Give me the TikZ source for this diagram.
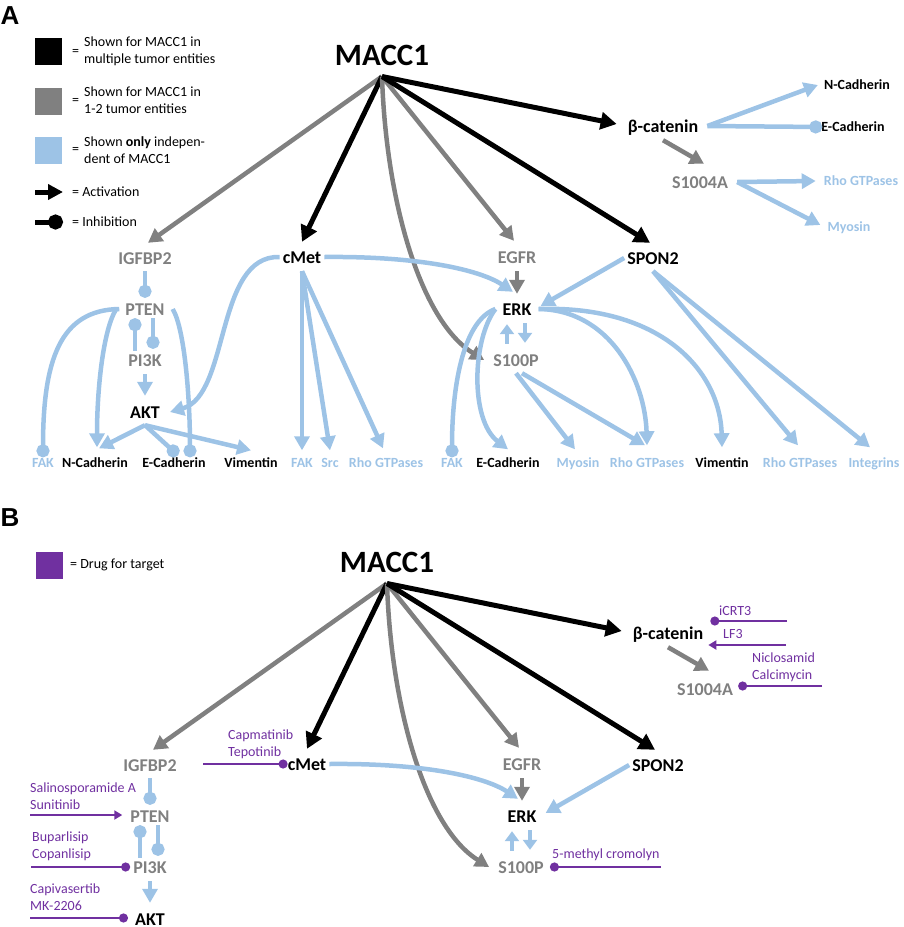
\documentclass[tikz,border=0pt]{standalone}
\usepackage{fontspec}
\setmainfont{Carlito}
\newfontfamily\panelfont{Liberation Sans}
\usetikzlibrary{arrows.meta}
\definecolor{lblue}{HTML}{9DC3E6}
\definecolor{mgrey}{HTML}{808080}
\definecolor{drug}{HTML}{7030A0}
\def\MaccCore#1{
    \node[hubnode] (#1macc) at (382,55) {MACC1};
    \node[gene] (#1bcat) at (663,126) {β-catenin};
    \node[gene, text=mgrey] (#1sa) at (700,182) {S1004A};
    \node[gene, text=mgrey] (#1igf) at (145,258) {IGFBP2};
    \node[gene] (#1cmet) at (302,257) {cMet};
    \node[gene, text=mgrey] (#1egfr) at (517,257) {EGFR};
    \node[gene] (#1spon) at (653,258) {SPON2};
    \node[gene, text=mgrey] (#1pten) at (145,309) {PTEN};
    \node[gene, text=mgrey] (#1pik) at (145,360) {PI3K};
    \node[gene] (#1akt) at (145,412) {AKT};
    \node[gene] (#1erk) at (517,309) {ERK};
    \node[gene, text=mgrey] (#1sp) at (516,360) {S100P};
    \draw[gact] (#1macc.south) -- ([xshift=3pt,yshift=6pt]#1igf.north);
    \draw[kact] (#1macc.south) -- ([yshift=6pt]#1cmet.north);
    \draw[gact] (#1macc.south) .. controls (386,200) and (420,320) .. ([xshift=-6pt]#1sp.west);
    \draw[gact] (#1macc.south) -- ([xshift=-3pt,yshift=7pt]#1egfr.north);
    \draw[kact] (#1macc.south) -- ([xshift=-3pt,yshift=6pt]#1spon.north);
    \draw[kact] (#1macc.south) -- ([xshift=-8pt,yshift=2pt]#1bcat.west);
    \draw[gact] ([yshift=-5pt]#1bcat.south) -- ([xshift=4pt,yshift=9pt]#1sa.north);
    \draw[binh] ([yshift=-4pt]#1igf.south) -- ([yshift=2pt]#1pten.north);
    \draw[binh] ([xshift=-10pt]#1pik.north) -- ([xshift=-10pt]#1pten.south);
    \draw[binh] ([xshift=8pt]#1pten.south) -- ([xshift=8pt,yshift=2pt]#1pik.north);
    \draw[bact] ([yshift=-5pt]#1pik.south) -- ([yshift=7pt]#1akt.north);
    \draw[bact] (#1cmet.east) .. controls (420,256) and (480,270) .. ([xshift=-4pt,yshift=8pt]#1erk.north);
    \draw[gact] ([yshift=-5pt]#1egfr.south) -- ([yshift=6pt]#1erk.north);
    \draw[bact] (#1spon.west) -- ([xshift=6pt,yshift=3pt]#1erk.east);
    \draw[sact] ([xshift=8pt,yshift=-5pt]#1erk.south) -- ([xshift=9pt,yshift=8pt]#1sp.north);
    \draw[sact] ([xshift=-9pt,yshift=7pt]#1sp.north) -- ([xshift=-10pt,yshift=-6pt]#1erk.south);
}
\begin{document}
\begin{tikzpicture}[x=1pt, y=-1pt,
    hubnode/.style={font=\fontsize{31}{36}\selectfont\bfseries, inner sep=0pt, text height=21pt, text depth=0pt, outer ysep=11pt},
    gene/.style={font=\fontsize{18}{21}\selectfont\bfseries, inner sep=3pt, text height=12pt, text depth=0pt},
    tgt/.style={font=\fontsize{14}{17}\selectfont\bfseries, inner sep=3pt, text height=9pt, text depth=0pt, text=lblue},
    panel/.style={font=\panelfont\fontsize{26}{28}\selectfont\bfseries, inner sep=0pt, anchor=base west},
    keytxt/.style={font=\fontsize{14}{17}\selectfont, inner sep=0pt, align=left, anchor=west},
    drugtxt/.style={font=\fontsize{14}{17}\selectfont, text=drug, inner sep=0pt, align=left, anchor=west},
    keybox/.style={minimum size=27pt, inner sep=0pt},
    kact/.style={draw=black, line width=5pt, -{Triangle[length=16pt,width=17pt]}},
    gact/.style={draw=mgrey, line width=4.5pt, -{Triangle[length=14pt,width=15pt]}},
    bact/.style={draw=lblue, line width=4.5pt, -{Triangle[length=14pt,width=15pt]}},
    sact/.style={draw=lblue, line width=4.5pt, -{Triangle[length=10pt,width=14pt]}},
    binh/.style={draw=lblue, line width=4.5pt, -{Circle[length=13pt]}},
    dact/.style={draw=drug, line width=2.5pt, -{Triangle[length=8pt,width=9pt]}},
    dinh/.style={draw=drug, line width=2.5pt, -{Circle[length=9pt]}}]
    \useasboundingbox (0,0) rectangle (903,927);
    \node[panel] (pa) at (0.5,24.5) {A};
    \node[keybox, fill=black] (k1) at (48.5,51.5) {};
    \node[keytxt] (k1e) at (72,52) {=};
    \node[keytxt] (k1t) at (84,51.5) {Shown for MACC1 in\\multiple tumor entities};
    \node[keybox, fill=mgrey] (k2) at (48.5,101) {};
    \node[keytxt] (k2e) at (72,101) {=};
    \node[keytxt] (k2t) at (84,100) {Shown for MACC1 in\\1-2 tumor entities};
    \node[keybox, fill=lblue] (k3) at (48.5,150) {};
    \node[keytxt] (k3e) at (72,150) {=};
    \node[keytxt] (k3t) at (84,150) {Shown \textbf{only} indepen-\\dent of MACC1};
    \coordinate (ka0) at (35,192);
    \coordinate (ka1) at (63,192);
    \draw[line width=5pt, -{Triangle[length=15pt,width=15pt]}] (ka0) -- (ka1);
    \node[keytxt] (kat) at (72,192) {= Activation};
    \coordinate (ki0) at (35,222);
    \coordinate (ki1) at (63,222);
    \draw[line width=5pt, -{Circle[length=15pt]}] (ki0) -- (ki1);
    \node[keytxt] (kit) at (72,222) {= Inhibition};
    \MaccCore{a-}
    \node[tgt, text=black] (ncadT) at (857,85) {N-Cadherin};
    \node[tgt, text=black] (ecadT) at (853,127) {E-Cadherin};
    \node[tgt] (rhoT) at (861,181) {Rho GTPases};
    \node[tgt] (myoT) at (849,227) {Myosin};
    \node[tgt] (fakL) at (43,463) {FAK};
    \node[tgt, text=black] (ncadL) at (95,463) {N-Cadherin};
    \node[tgt, text=black] (ecadL) at (174,463) {E-Cadherin};
    \node[tgt, text=black] (vimL) at (251,463) {Vimentin};
    \node[tgt] (fakM) at (302,463) {FAK};
    \node[tgt] (src) at (330,463) {Src};
    \node[tgt] (rhoM) at (386,463) {Rho GTPases};
    \node[tgt] (fakR) at (452,463) {FAK};
    \node[tgt, text=black] (ecadR) at (508,463) {E-Cadherin};
    \node[tgt] (myoR) at (578,463) {Myosin};
    \node[tgt] (rhoR) at (647,463) {Rho GTPases};
    \node[tgt, text=black] (vimR) at (722,463) {Vimentin};
    \node[tgt] (rhoS) at (800,463) {Rho GTPases};
    \node[tgt] (integ) at (874,463) {Integrins};
    \draw[bact] ([xshift=6pt]a-bcat.east) -- ([xshift=-3pt]ncadT.west);
    \draw[binh] ([xshift=6pt]a-bcat.east) -- ([xshift=4pt]ecadT.west);
    \draw[bact] ([xshift=6pt]a-sa.east) -- ([xshift=-5pt]rhoT.west);
    \draw[bact] ([xshift=6pt]a-sa.east) -- ([xshift=-4pt,yshift=2pt]myoT.west);
    \draw[binh] ([xshift=-3pt]a-pten.west) .. controls (60,310) and (43,360) .. ([yshift=-2pt]fakL.north);
    \draw[bact] ([xshift=-6pt]a-pten.west) .. controls (103,330) and (97,390) .. ([xshift=2pt,yshift=8pt]ncadL.north);
    \draw[binh] ([xshift=5pt]a-pten.east) .. controls (185,330) and (190,400) .. ([xshift=16pt,yshift=-2pt]ecadL.north);
    \draw[bact] (a-cmet.west) .. controls (215,255) and (230,395) .. ([xshift=7pt]a-akt.east);
    \draw[bact] ([yshift=-4pt]a-akt.south) -- ([xshift=4pt,yshift=7pt]ncadL.north);
    \draw[binh] ([yshift=-4pt]a-akt.south) -- ([xshift=4pt]ecadL.north);
    \draw[bact] ([yshift=-4pt]a-akt.south) -- ([yshift=5pt]vimL.north);
    \draw[bact] ([yshift=-5pt]a-cmet.south) -- ([yshift=5pt]fakM.north);
    \draw[bact] ([yshift=-5pt]a-cmet.south) -- ([yshift=5pt]src.north);
    \draw[bact] ([yshift=-5pt]a-cmet.south) -- ([xshift=-3pt,yshift=7pt]rhoM.north);
    \draw[binh] ([xshift=-4pt]a-erk.west) .. controls (465,320) and (452,380) .. ([yshift=-2pt]fakR.north);
    \draw[bact] ([xshift=-4pt]a-erk.west) .. controls (472,340) and (470,420) .. ([yshift=6pt]ecadR.north);
    \draw[bact] ([yshift=-4pt]a-sp.south) -- ([xshift=-3pt,yshift=6pt]myoR.north);
    \draw[bact] ([xshift=6pt,yshift=-4pt]a-sp.south) -- ([xshift=-2pt,yshift=10pt]rhoR.north);
    \draw[bact] ([xshift=4pt]a-erk.east) .. controls (610,310) and (645,380) .. ([yshift=10pt]rhoR.north);
    \draw[bact] ([xshift=4pt]a-erk.east) .. controls (660,305) and (720,370) .. ([yshift=8pt]vimR.north);
    \draw[bact] ([yshift=-4pt]a-spon.south) -- ([xshift=-2pt,yshift=10pt]rhoS.north);
    \draw[bact] ([yshift=-4pt]a-spon.south) -- ([xshift=-4pt,yshift=8pt]integ.north);
    \node[panel] (pb) at (0.5,526) {B};
    \node[keybox, fill=drug] (k4) at (49,565) {};
    \node[keytxt] (k4t) at (70,565) {= Drug for target};
    \begin{scope}[shift={(5,507)}]
    \MaccCore{b-}
    \end{scope}
    \node[drugtxt] (icrt) at (719,611) {iCRT3};
    \coordinate (icrt0) at (787,621);
    \draw[dinh] (icrt0) -- ([xshift=4pt,yshift=12pt]b-bcat.east);
    \node[drugtxt] (lf) at (723,634) {LF3};
    \coordinate (lf0) at (786,645);
    \draw[dact] (lf0) -- ([xshift=2pt,yshift=-12pt]b-bcat.east);
    \node[drugtxt] (nicl) at (752,667.5) {Niclosamid\\Calcimycin};
    \coordinate (nicl0) at (822,686);
    \draw[dinh] (nicl0) -- ([xshift=2pt,yshift=3pt]b-sa.east);
    \node[drugtxt] (capm) at (228,744) {Capmatinib\\Tepotinib};
    \coordinate (capm0) at (203,764);
    \draw[dinh] (capm0) -- ([xshift=3pt]b-cmet.west);
    \node[drugtxt] (salino) at (30,796) {Salinosporamide A\\Sunitinib};
    \coordinate (salino0) at (30,815);
    \draw[dact] (salino0) -- ([xshift=-5pt,yshift=1pt]b-pten.west);
    \node[drugtxt] (bupar) at (32,846) {Buparlisip\\Copanlisip};
    \coordinate (bupar0) at (31,867);
    \draw[dinh] (bupar0) -- (b-pik.west);
    \node[drugtxt] (capiv) at (30,897.5) {Capivasertib\\MK-2206};
    \coordinate (capiv0) at (30,918);
    \draw[dinh] (capiv0) -- ([xshift=-4pt,yshift=1pt]b-akt.west);
    \node[drugtxt] (crom) at (552,855) {5-methyl cromolyn};
    \coordinate (crom0) at (661,867);
    \draw[dinh] (crom0) -- ([xshift=3pt]b-sp.east);
\end{tikzpicture}
\end{document}
